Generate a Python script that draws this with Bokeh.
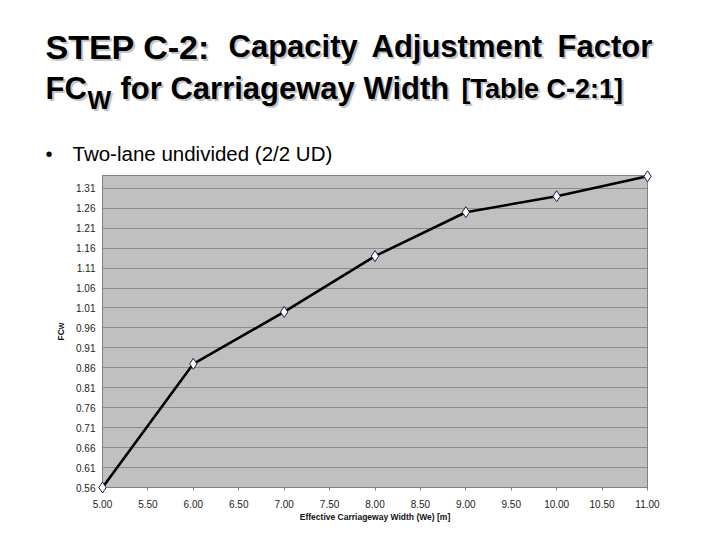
from bokeh.plotting import figure
from bokeh.models import Range1d, FixedTicker, PrintfTickFormatter
from bokeh.core.properties import value
from bokeh.embed import file_html
from bokeh.resources import INLINE

# ---- data ----
widths = [5.0, 6.0, 7.0, 8.0, 9.0, 10.0, 11.0]
fcw = [0.56, 0.87, 1.00, 1.14, 1.25, 1.29, 1.34]
x_ticks = [5.0, 5.5, 6.0, 6.5, 7.0, 7.5, 8.0, 8.5, 9.0, 9.5, 10.0, 10.5, 11.0]
y_ticks = [0.56, 0.61, 0.66, 0.71, 0.76, 0.81, 0.86, 0.91, 0.96, 1.01,
           1.06, 1.11, 1.16, 1.21, 1.26, 1.31]

X0, X1 = 5.0, 11.0
Y0, Y1 = 0.56, 1.342

W, H = 704, 524
FL, FT, FR, FB = 102, 175, 647, 488   # frame edges in picture pixels
p = figure(width=W, height=H, output_backend="svg", toolbar_location=None,
           x_range=Range1d(X0, X1), y_range=Range1d(Y0, Y1),
           min_border_left=FL, min_border_right=W - FR,
           min_border_top=FT, min_border_bottom=H - FB)

p.border_fill_color = "white"
p.outline_line_color = "#808080"
p.outline_line_width = 1

FONT = "Liberation Sans"

p.xaxis.ticker = FixedTicker(ticks=x_ticks)
p.yaxis.ticker = FixedTicker(ticks=y_ticks)
p.xaxis.formatter = PrintfTickFormatter(format="%.2f")
p.yaxis.formatter = PrintfTickFormatter(format="%.2f")
for ax in (p.xaxis, p.yaxis):
    ax.axis_line_color = "#808080"
    ax.major_tick_line_color = "#808080"
    ax.minor_tick_line_color = None
    ax.major_tick_in = 0
    ax.major_label_text_font = FONT
    ax.major_label_text_font_size = "10px"
    ax.major_label_text_color = "#222222"
    ax.axis_label_text_font = FONT
    ax.axis_label_text_font_style = "bold"
    ax.axis_label_text_font_size = "8.5px"
    ax.axis_label_text_color = "#111111"
p.xaxis.major_tick_out = 3
p.xaxis.major_label_standoff = 9
p.yaxis.major_tick_out = 0
p.yaxis.major_label_standoff = 7
p.xaxis.axis_label = "Effective Carriageway Width (We) [m]"
p.yaxis.axis_label = "FCw"
p.xaxis.axis_label_standoff = 1
p.yaxis.axis_label_standoff = 7

p.xgrid.grid_line_color = None
p.ygrid.grid_line_color = "#8c8c8c"
p.ygrid.grid_line_width = 1
p.background_fill_color = "#c0c0c0"

p.line(widths, fcw, line_color="black", line_width=2.6)
p.scatter(widths, fcw, marker="diamond", size=11, fill_color="white",
          line_color="#1c1c50", line_width=1, level="overlay")

# ---- slide texts (placed above the frame, overlay level so not clipped) ----
def to_data(px, py):
    return (X0 + (px - FL) / (FR - FL) * (X1 - X0),
            Y0 + (FB - py) / (FB - FT) * (Y1 - Y0))

def txt(t, x, y, size, bold=True, shadow=True):
    # x, y: picture pixel (left, baseline-ish)
    dx, dy = to_data(x, y)
    style = "bold" if bold else "normal"
    if shadow:
        p.text(x=[dx], y=[dy], text=[t], x_offset=2, y_offset=2,
               text_font=value(FONT), text_font_size=f"{size}px",
               text_font_style=style, text_color="#c4c4c4",
               text_baseline="alphabetic", text_align="left", level="overlay")
    p.text(x=[dx], y=[dy], text=[t],
           text_font=value(FONT), text_font_size=f"{size}px",
           text_font_style=style, text_color="black",
           text_baseline="alphabetic", text_align="left", level="overlay")

L1, L2, L3 = 46, 88, 153
txt("STEP C-2:", 45, L1, 34)
txt("Capacity", 228, L1, 31)
txt("Adjustment", 371, L1, 31)
txt("Factor", 557, L1, 31)
txt("FC", 45, L2, 31)
txt("W", 87, L2 + 11, 25)
txt("for Carriageway Width", 120, L2, 31)
txt("[Table C-2:1]", 461, L2, 27)
txt("\u2022", 45, L3, 20, bold=False, shadow=False)
txt("Two-lane undivided (2/2 UD)", 72, L3, 20.5, bold=False, shadow=False)

open("out.html", "w").write(file_html(p, INLINE))
